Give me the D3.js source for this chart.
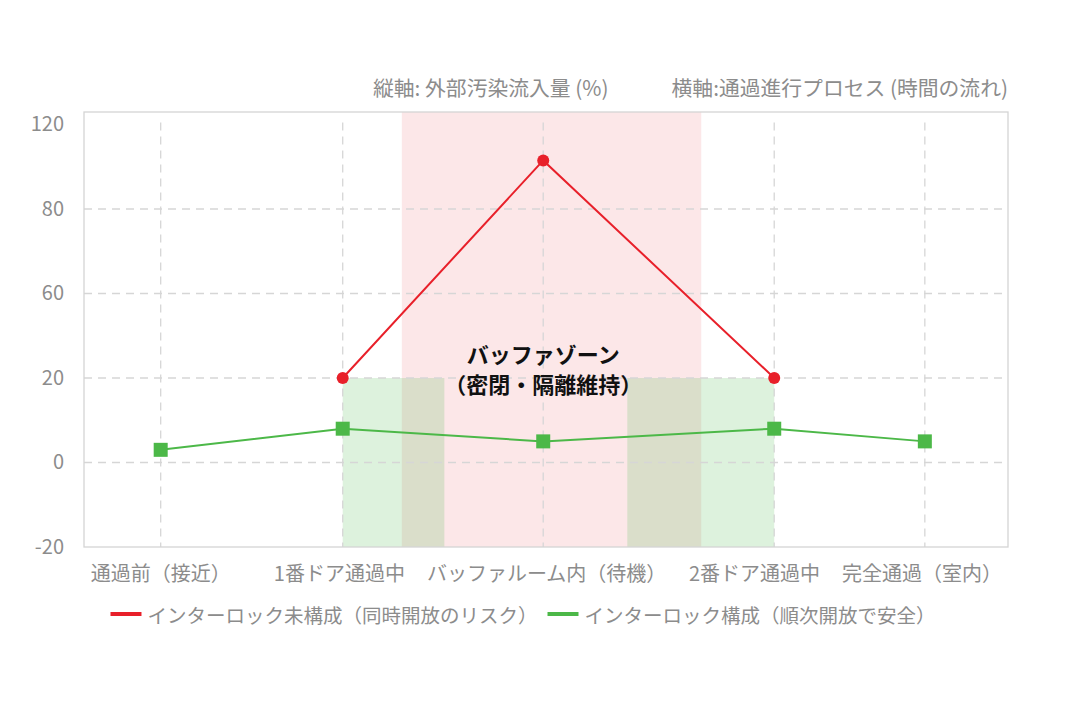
<!DOCTYPE html>
<html>
<head>
<meta charset="utf-8">
<script src="https://cdn.jsdelivr.net/npm/d3@7"></script>
<style>
  body { margin: 0; background: #fff; }
  text { font-family: "Noto Sans CJK JP", "Noto Sans", sans-serif; }
</style>
</head>
<body>
<div id="chart"></div>
<script>
// stages along the passage (x = progress through the airlock, %)
var stages = ["通過前（接近）", "1番ドア通過中", "バッファルーム内（待機）", "2番ドア通過中", "完全通過（室内）"];
var stageProgress = [8.3, 28, 49.7, 74.7, 91];

// contamination inflow (%)
var noInterlock = [null, 20, 103, 20, null];
var withInterlock = [3, 8, 5, 8, 5];

// y tick labels as printed on the axis
var yTicks = [-20, 0, 20, 60, 80, 120];

// shaded zones (progress ranges)
var bufferZone = [34.4, 66.8];
var doorZones = [[28, 39], [58.8, 74.7]];
var doorZoneTop = 20;

var seriesNames = ["インターロック未構成（同時開放のリスク）", "インターロック構成（順次開放で安全）"];
var yTitle = "縦軸: 外部汚染流入量 (%)";
var xTitle = "横軸:通過進行プロセス (時間の流れ)";
var zoneLabel = ["バッファゾーン", "（密閉・隔離維持）"];

var width = 1073;
var height = 712;

var marginTop = 112;
var marginRight = 65;
var marginBottom = 165;
var marginLeft = 84;

var red = "#e8202a";
var green = "#4cb848";
var grey = "#8c8c8c";

function chart(container) {

    // Create the SVG container and attach it so text can be measured.
    const svg = d3.create("svg")
        .attr("width", width)
        .attr("height", height);
    container.appendChild(svg.node());

    var plotBottom = height - marginBottom;
    var step = 84.5;

    //Declare the x scale (progress through the passage).
    var x = d3.scaleLinear()
        .domain([0, 100])
        .range([marginLeft, width - marginRight]);

    //Declare the y scale, one even step per printed tick.
    var y = d3.scaleLinear()
        .domain(yTicks)
        .range(yTicks.map((d, i) => plotBottom - i * step));

    //Buffer zone band (full height)
    svg.append("rect")
        .attr("x", x(bufferZone[0]))
        .attr("y", marginTop)
        .attr("width", x(bufferZone[1]) - x(bufferZone[0]))
        .attr("height", plotBottom - marginTop)
        .attr("fill", red)
        .attr("fill-opacity", 0.11);

    //Door zones (up to 20)
    svg.selectAll(".door")
        .data(doorZones)
        .join("rect")
        .attr("class", "door")
        .attr("x", d => x(d[0]))
        .attr("y", y(doorZoneTop))
        .attr("width", d => x(d[1]) - x(d[0]))
        .attr("height", plotBottom - y(doorZoneTop))
        .attr("fill", green)
        .attr("fill-opacity", 0.19);

    //Horizontal grid
    svg.append("g")
        .selectAll("line")
        .data(yTicks.filter(d => d != 120 && d != -20))
        .join("line")
        .attr("x1", marginLeft)
        .attr("x2", width - marginRight)
        .attr("y1", d => y(d))
        .attr("y2", d => y(d))
        .attr("stroke", "#d6d6d6")
        .attr("stroke-width", 1.3)
        .attr("stroke-dasharray", "8,6");

    //Vertical grid
    svg.append("g")
        .selectAll("line")
        .data(stageProgress)
        .join("line")
        .attr("x1", d => x(d))
        .attr("x2", d => x(d))
        .attr("y1", y(120) - 2)
        .attr("y2", plotBottom)
        .attr("stroke", "#d6d6d6")
        .attr("stroke-width", 1.3)
        .attr("stroke-dasharray", "8,6");

    //Plot frame
    svg.append("rect")
        .attr("x", marginLeft)
        .attr("y", marginTop)
        .attr("width", width - marginRight - marginLeft)
        .attr("height", plotBottom - marginTop)
        .attr("fill", "none")
        .attr("stroke", "#d4d4d4")
        .attr("stroke-width", 1.3);

    //Add the y-axis labels.
    const gy = svg.append("g")
        .attr("transform", `translate(${marginLeft},0)`)
        .call(d3.axisLeft(y).tickValues(yTicks).tickFormat(d => String(d)).tickSize(0).tickPadding(20));
    gy.select(".domain").remove();
    gy.selectAll("text")
        .attr("fill", grey)
        .attr("font-size", 20)
        .style("font-family", '"Noto Sans CJK JP", sans-serif');

    //Add the x-axis labels, then spread them apart so they keep a gap
    const xl = svg.append("g")
        .selectAll("text")
        .data(stages)
        .join("text")
        .attr("x", (d, i) => x(stageProgress[i]))
        .attr("y", 572)
        .attr("text-anchor", "middle")
        .attr("dominant-baseline", "central")
        .attr("fill", grey)
        .attr("font-size", 20)
        .text(d => d);

    var cx = stageProgress.map(p => x(p));
    var w = xl.nodes().map(n => n.getComputedTextLength());
    var minGap = 22;
    var rightLimit = width - marginRight - 6;
    for (var k = 0; k < 50; k++) {
        for (var i = 0; i < cx.length - 1; i++) {
            var gap = (cx[i + 1] - w[i + 1] / 2) - (cx[i] + w[i] / 2);
            if (gap < minGap) {
                cx[i] -= (minGap - gap) / 2;
                cx[i + 1] += (minGap - gap) / 2;
            }
        }
        var last = cx.length - 1;
        if (cx[last] + w[last] / 2 > rightLimit) cx[last] = rightLimit - w[last] / 2;
    }
    xl.attr("x", (d, i) => cx[i]);

    //Lines
    var lineGen = d3.line()
        .defined(d => d[1] != null)
        .x(d => x(d[0]))
        .y(d => y(d[1]));

    var redPts = stageProgress.map((p, i) => [p, noInterlock[i]]);
    var greenPts = stageProgress.map((p, i) => [p, withInterlock[i]]);

    svg.append("path")
        .attr("d", lineGen(redPts))
        .attr("fill", "none")
        .attr("stroke", red)
        .attr("stroke-width", 2);

    svg.append("path")
        .attr("d", lineGen(greenPts))
        .attr("fill", "none")
        .attr("stroke", green)
        .attr("stroke-width", 2);

    svg.append("g")
        .selectAll("circle")
        .data(redPts.filter(d => d[1] != null))
        .join("circle")
        .attr("cx", d => x(d[0]))
        .attr("cy", d => y(d[1]))
        .attr("r", 6)
        .attr("fill", red);

    svg.append("g")
        .selectAll("rect")
        .data(greenPts)
        .join("rect")
        .attr("x", d => x(d[0]) - 7)
        .attr("y", d => y(d[1]) - 7)
        .attr("width", 14)
        .attr("height", 14)
        .attr("fill", green);

    //Buffer zone annotation
    svg.append("text")
        .attr("x", x(stageProgress[2]))
        .attr("y", 353)
        .attr("text-anchor", "middle")
        .attr("dominant-baseline", "central")
        .attr("font-size", 22)
        .attr("font-weight", "bold")
        .attr("fill", "#111")
        .selectAll("tspan")
        .data(zoneLabel)
        .join("tspan")
        .attr("x", x(stageProgress[2]))
        .attr("dy", (d, i) => i == 0 ? 0 : 30)
        .text(d => d);

    //Titles at the top
    svg.append("text")
        .attr("x", 373)
        .attr("y", 87)
        .attr("dominant-baseline", "central")
        .attr("fill", grey)
        .attr("font-size", 20.8)
        .text(yTitle);

    svg.append("text")
        .attr("x", width - marginRight)
        .attr("y", 87)
        .attr("text-anchor", "end")
        .attr("dominant-baseline", "central")
        .attr("fill", grey)
        .attr("font-size", 20.8)
        .text(xTitle);

    //Legend
    const legend = svg.append("g");
    var lx = 0;
    [red, green].forEach((c, i) => {
        legend.append("line")
            .attr("x1", lx).attr("x2", lx + 31)
            .attr("y1", 614).attr("y2", 614)
            .attr("stroke", c)
            .attr("stroke-width", 4);
        var t = legend.append("text")
            .attr("x", lx + 37)
            .attr("y", 614)
            .attr("dominant-baseline", "central")
            .attr("fill", grey)
            .attr("font-size", 19.5)
            .text(seriesNames[i]);
        lx += 37 + t.node().getComputedTextLength() + 10;
    });
    var lw = lx - 10;
    legend.attr("transform", `translate(${523 - lw / 2},0)`);
}

chart(document.getElementById("chart"));
</script>
</body>
</html>
